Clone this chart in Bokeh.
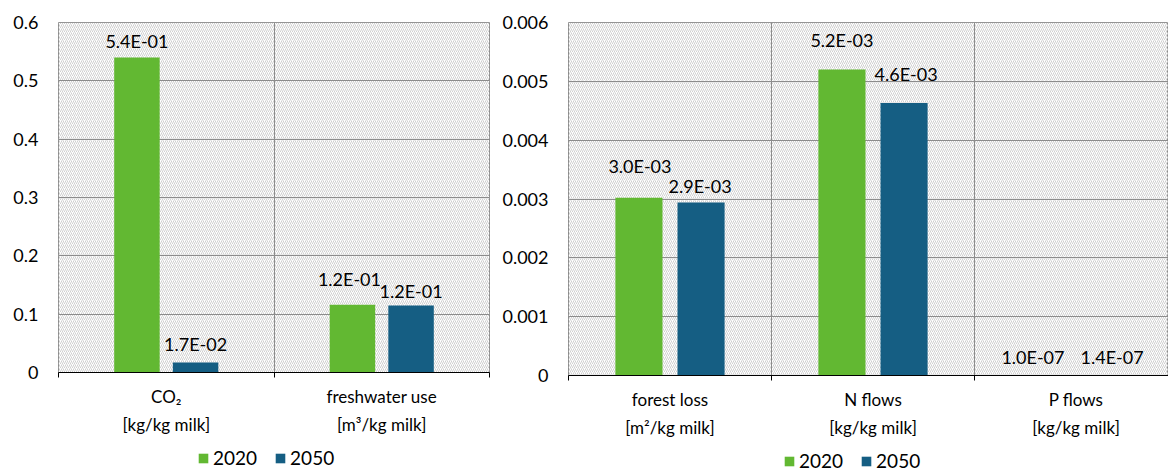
from bokeh.plotting import figure
from bokeh.models import (FixedTicker, BoxAnnotation, Legend, LegendItem,
                          NumeralTickFormatter, Range1d, ColumnDataSource)
from bokeh.layouts import row, column
from bokeh.embed import file_html
from bokeh.resources import INLINE
from bokeh.core.properties import value

# ---------------- data ----------------
series = ["2020", "2050"]
colors = ["#62B832", "#155E83"]

left_categories = ["CO\u2082\n[kg/kg milk]", "freshwater use\n[m\u00b3/kg milk]"]
left_2020 = [0.54, 0.116]
left_2050 = [0.017, 0.115]
left_yticks = [0, 0.1, 0.2, 0.3, 0.4, 0.5, 0.6]

right_categories = ["forest loss\n[m\u00b2/kg milk]", "N flows\n[kg/kg milk]", "P flows\n[kg/kg milk]"]
right_2020 = [0.00302, 0.0052, 1.0e-7]
right_2050 = [0.00294, 0.00463, 1.4e-7]
right_yticks = [0, 0.001, 0.002, 0.003, 0.004, 0.005, 0.006]

# label pixel nudges (style, not data)
left_dx = ([0, -3], [0, 0])
left_dy = ([-17, -26], [-19, -14])
right_dx = ([1, 0, -12], [-1, 2, 5])
right_dy = ([-32, -30, -18], [-17, -29, -18])

FONT = "Lato"
FS = "18px"
CAT_FS = "17px"
LEG_FS = "19px"
GRID = "#8c8c8c"


def panel(categories, v2020, v2050, yticks, width, height, bl, br, bt, bb,
          bar_w, bar_off, x_visible, dxs, dys):
    n = len(categories)
    p = figure(width=width, height=height, output_backend="svg",
               toolbar_location=None,
               x_range=Range1d(0, x_visible), y_range=Range1d(yticks[0], yticks[-1]),
               min_border_left=bl, min_border_right=br,
               min_border_top=bt, min_border_bottom=bb)
    p.outline_line_color = GRID
    p.outline_line_width = 1
    p.background_fill_color = "white"
    p.border_fill_color = "white"

    hatch = BoxAnnotation(fill_alpha=0, line_alpha=0, hatch_pattern="/",
                          hatch_color="#d0d0d0", hatch_scale=4, hatch_weight=1,
                          level="image")
    p.add_layout(hatch)

    for k, vals in enumerate([v2020, v2050]):
        xs = [i + 0.5 + (2 * k - 1) * bar_off for i in range(n)]
        src = ColumnDataSource(dict(x=xs, top=vals,
                                    lbl=[f"{v:.1E}" for v in vals],
                                    dx=dxs[k], dy=dys[k]))
        p.vbar(x="x", top="top", width=bar_w, source=src,
               fill_color=colors[k], line_color=None)
        p.text(x="x", y="top", text="lbl", x_offset="dx", y_offset="dy",
               source=src, text_align="center", text_baseline="middle",
               text_font=value(FONT), text_font_size=FS, text_color="black")

    # x axis
    xa = p.xaxis[0]
    xa.ticker = FixedTicker(ticks=[i + 0.5 for i in range(n)],
                            minor_ticks=list(range(n + 1)))
    xa.major_label_overrides = {i + 0.5: c for i, c in enumerate(categories)}
    xa.major_tick_out = 0
    xa.major_tick_in = 0
    xa.minor_tick_out = 5
    xa.minor_tick_in = 0
    xa.minor_tick_line_color = "black"
    xa.axis_line_color = "black"
    xa.axis_line_width = 1
    xa.major_label_standoff = 8
    xa.major_label_text_font = FONT
    xa.major_label_text_font_size = CAT_FS
    xa.major_label_text_color = "black"
    xa.major_label_text_line_height = 1.35

    # y axis
    ya = p.yaxis[0]
    ya.ticker = FixedTicker(ticks=yticks)
    ya.formatter = NumeralTickFormatter(format="0.[000]")
    ya.axis_line_color = None
    ya.major_tick_line_color = None
    ya.minor_tick_line_color = None
    ya.major_tick_out = 0
    ya.major_tick_in = 0
    ya.minor_tick_out = 0
    ya.minor_tick_in = 0
    ya.major_label_standoff = 20
    ya.major_label_text_font = FONT
    ya.major_label_text_font_size = FS
    ya.major_label_text_color = "black"

    p.ygrid.ticker = FixedTicker(ticks=yticks)
    p.ygrid.grid_line_color = GRID
    p.xgrid.ticker = FixedTicker(ticks=list(range(n + 1)))
    p.xgrid.grid_line_color = GRID
    return p


def legend_strip(width, height, loc):
    q = figure(width=width, height=height, output_backend="svg",
               toolbar_location=None, x_axis_location=None, y_axis_location=None,
               x_range=Range1d(0, 1), y_range=Range1d(0, 1),
               min_border=0)
    q.outline_line_color = None
    q.grid.visible = False
    q.background_fill_color = "white"
    q.border_fill_color = "white"
    # zero-height proxy bars: only their legend swatches are visible
    rs = [q.vbar(x=[0.5], top=[0], bottom=[0], width=0, fill_color=c, line_color=None)
          for c in colors]
    legend = Legend(items=[LegendItem(label=s, renderers=[r]) for s, r in zip(series, rs)],
                    orientation="horizontal", location=loc,
                    glyph_width=12, glyph_height=12, label_standoff=4, spacing=17,
                    padding=0, margin=0, border_line_color=None,
                    background_fill_alpha=0, label_text_font=FONT,
                    label_text_font_size=LEG_FS, label_text_color="black")
    q.add_layout(legend, "center")
    return q


left = panel(left_categories, left_2020, left_2050, left_yticks,
             492, 440, 58, 3, 22, 68, 0.211, 0.136, 2.0,
             left_dx, left_dy)
right = panel(right_categories, right_2020, right_2050, right_yticks,
              676, 440, 76, 0, 22, 64, 0.232, 0.153, 600 / 203,
              right_dx, right_dy)
# column layouts align plot frames, so legend x is measured from the frame's left edge
left_leg = legend_strip(492, 32, (139, 3))
right_leg = legend_strip(676, 32, (215, 0))

layout = row(column(left, left_leg, spacing=0), column(right, right_leg, spacing=0), spacing=0)
open("out.html", "w").write(file_html(layout, INLINE))
